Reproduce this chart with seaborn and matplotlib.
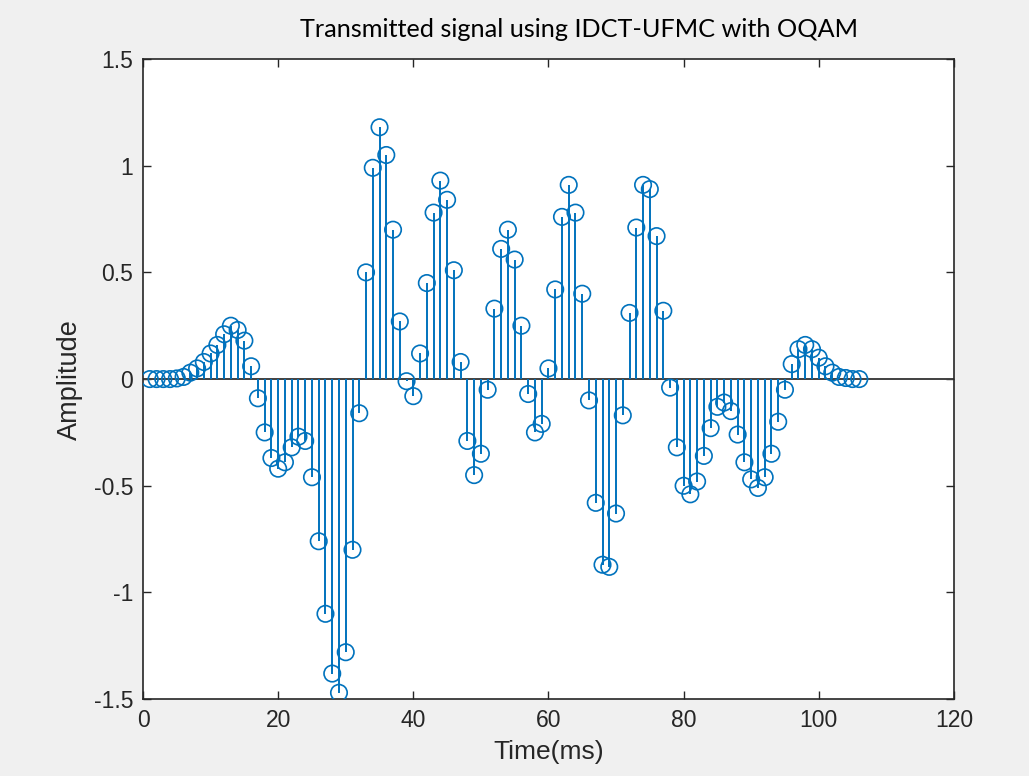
import numpy as np
import pandas as pd
import matplotlib
matplotlib.use("Agg")
import matplotlib.pyplot as plt
import seaborn as sns

# sample index (ms) and amplitude
time_ms = list(range(1, 107))
amplitude = [
    0.0, 0.0, 0.0, 0.0, 0.003, 0.01, 0.03, 0.05, 0.08, 0.12,
    0.16, 0.21, 0.25, 0.23, 0.18, 0.06, -0.09, -0.25, -0.37, -0.42,
    -0.39, -0.32, -0.27, -0.29, -0.46, -0.76, -1.10, -1.38, -1.47, -1.28,
    -0.80, -0.16, 0.50, 0.99, 1.18, 1.05, 0.70, 0.27, -0.01, -0.08,
    0.12, 0.45, 0.78, 0.93, 0.84, 0.51, 0.08, -0.29, -0.45, -0.35,
    -0.05, 0.33, 0.61, 0.70, 0.56, 0.25, -0.07, -0.25, -0.21, 0.05,
    0.42, 0.76, 0.91, 0.78, 0.40, -0.10, -0.58, -0.87, -0.88, -0.63,
    -0.17, 0.31, 0.71, 0.91, 0.89, 0.67, 0.32, -0.04, -0.32, -0.50,
    -0.54, -0.48, -0.36, -0.23, -0.13, -0.11, -0.15, -0.26, -0.39, -0.47,
    -0.51, -0.46, -0.35, -0.20, -0.05, 0.07, 0.14, 0.16, 0.14, 0.10,
    0.06, 0.03, 0.01, 0.005, 0.0, 0.0,
]
x_ticks = [0, 20, 40, 60, 80, 100, 120]
y_ticks = [-1.5, -1, -0.5, 0, 0.5, 1, 1.5]
y_tick_labels = ["-1.5", "-1", "-0.5", "0", "0.5", "1", "1.5"]

df = pd.DataFrame({"t": time_ms, "amp": amplitude})

sns.set_style("ticks")
plt.rcParams["font.family"] = ["Liberation Sans", "DejaVu Sans"]
blue = "#0072BD"

fig = plt.figure(figsize=(10.29, 7.76), dpi=100, facecolor="#f0f0f0")
ax = fig.add_axes([0.139, 0.099, 0.788, 0.825])
ax.set_facecolor("white")

ax.axhline(0, color="#404040", lw=1.4, zorder=1)
ax.vlines(df["t"], 0, df["amp"], color=blue, lw=1.4, zorder=2)
sns.scatterplot(data=df, x="t", y="amp", ax=ax, marker="o", s=140,
                facecolors="none", edgecolor=blue, linewidth=1.2, zorder=3)

ax.set_xlim(0, 120)
ax.set_ylim(-1.5, 1.5)
ax.set_xticks(x_ticks)
ax.set_yticks(y_ticks)
ax.set_yticklabels(y_tick_labels)
ax.tick_params(direction="in", top=True, right=True, length=6, width=1,
               color="#262626", labelsize=16.5, labelcolor="#262626", pad=7)
for s in ax.spines.values():
    s.set_color("#262626")
    s.set_linewidth(1.2)

ax.set_xlabel("Time(ms)", fontsize=19, color="#262626", labelpad=6)
ax.set_ylabel("Amplitude", fontsize=19.5, color="#262626", labelpad=8)
fig.text(0.563, 0.962, "Transmitted signal using IDCT-UFMC with OQAM",
         ha="center", va="center", fontsize=18.2, family=["Lato", "DejaVu Sans"],
         color="black")

fig.savefig("out.png", dpi=100, facecolor=fig.get_facecolor())
